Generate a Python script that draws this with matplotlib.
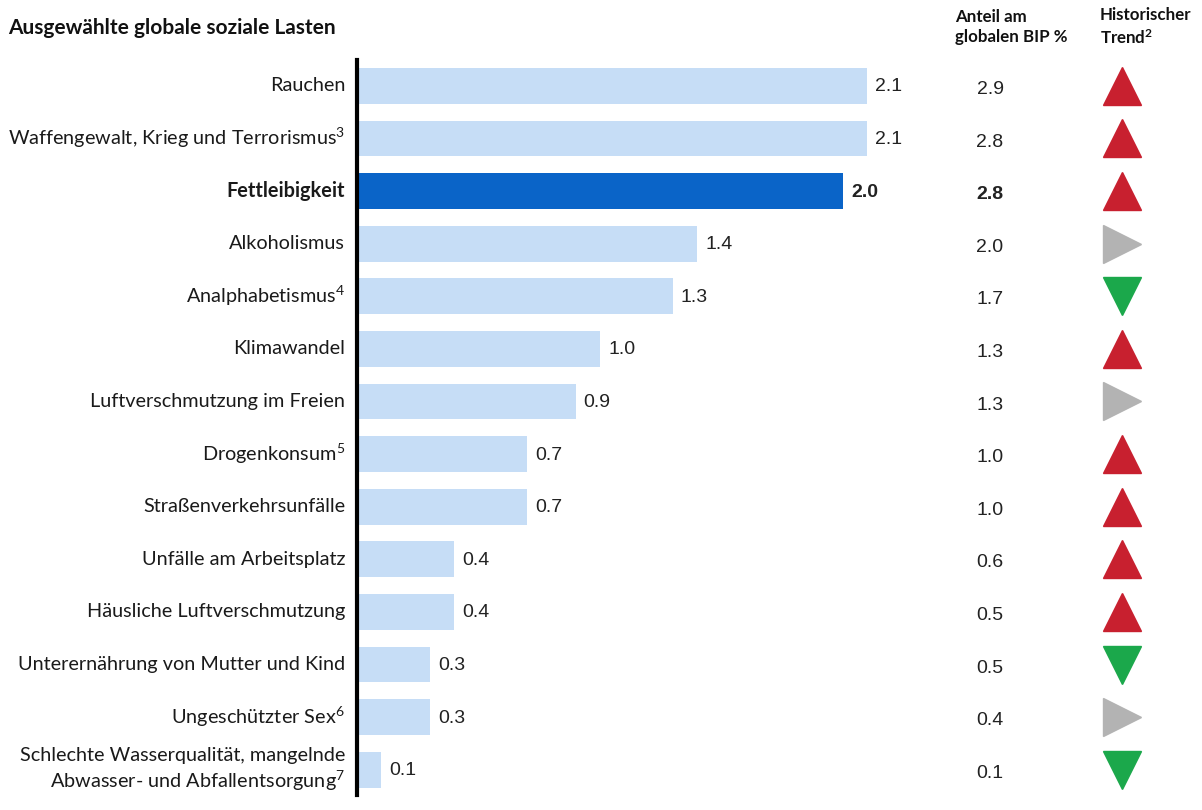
import matplotlib
matplotlib.use("Agg")
import matplotlib.pyplot as plt
import matplotlib.transforms as mtransforms

plt.rcParams["mathtext.fontset"] = "custom"
plt.rcParams["mathtext.rm"] = "Lato"
plt.rcParams["mathtext.it"] = "Lato:italic"
plt.rcParams["mathtext.bf"] = "Lato:bold"

categories = [
    "Rauchen",
    r"Waffengewalt, Krieg und Terrorismus$^{\mathrm{3}}$",
    "Fettleibigkeit",
    "Alkoholismus",
    r"Analphabetismus$^{\mathrm{4}}$",
    "Klimawandel",
    "Luftverschmutzung im Freien",
    r"Drogenkonsum$^{\mathrm{5}}$",
    "Straßenverkehrsunfälle",
    "Unfälle am Arbeitsplatz",
    "Häusliche Luftverschmutzung",
    "Unterernährung von Mutter und Kind",
    r"Ungeschützter Sex$^{\mathrm{6}}$",
    "Schlechte Wasserqualität, mangelnde\n" + r"Abwasser- und Abfallentsorgung$^{\mathrm{7}}$",
]
kosten = [2.1, 2.1, 2.0, 1.4, 1.3, 1.0, 0.9, 0.7, 0.7, 0.4, 0.4, 0.3, 0.3, 0.1]
bip_anteil = ["2.9", "2.8", "2.8", "2.0", "1.7", "1.3", "1.3", "1.0", "1.0", "0.6", "0.5", "0.5", "0.4", "0.1"]
trend = ["up", "up", "up", "flat", "down", "up", "flat", "up", "up", "up", "up", "down", "flat", "down"]
highlight = "Fettleibigkeit"

W, H = 1202, 810
fig = plt.figure(figsize=(W / 100, H / 100), dpi=100)
ax = fig.add_axes([357 / W, 1 - 795 / H, (W - 357) / W, (795 - 60) / H])

lab_font = ["Lato", "DejaVu Sans"]
num_font = ["Liberation Sans", "DejaVu Sans"]

ys = list(range(len(categories)))
colors = ["#0A64C8" if c == highlight else "#C6DDF6" for c in categories]
ax.barh(ys, kosten, height=0.68, color=colors, align="center")

ax.set_xlim(0, (W - 357) / 243.0)
ax.set_ylim(13.48, -0.49)
for s in ["top", "right", "bottom"]:
    ax.spines[s].set_visible(False)
ax.spines["left"].set_linewidth(3)
ax.spines["left"].set_color("black")
ax.set_xticks([])
ax.set_yticks([])

trans = mtransforms.blended_transform_factory(fig.transFigure, ax.transData)

for y, cat, v, b, t in zip(ys, categories, kosten, bip_anteil, trend):
    bold = cat == highlight
    fw = "bold" if bold else "normal"
    ax.text(345 / W, y, cat, transform=trans, ha="right", va="center",
            fontsize=14.3, family=lab_font, fontweight=fw, color="#1a1a1a",
            linespacing=1.25)
    ax.text(v + 0.033, y + 0.02, f"{v:.1f}", ha="left", va="center", fontsize=14,
            family=num_font, fontweight=fw, color="#222222")
    ax.text(990 / W, y + 0.07, b, transform=trans, ha="center", va="center",
            fontsize=14, family=num_font, fontweight=fw, color="#222222")
    if t == "up":
        ax.plot([1122 / W], [y], marker="^", markersize=27, color="#C8202F",
                transform=trans, clip_on=False)
    elif t == "down":
        ax.plot([1122 / W], [y], marker="v", markersize=27, color="#1BA84B",
                transform=trans, clip_on=False)
    else:
        ax.plot([1122 / W], [y], marker=">", markersize=27, color="#B3B3B3",
                transform=trans, clip_on=False)

fig.text(8 / W, 1 - 28 / H, "Ausgewählte globale soziale Lasten", ha="left",
         va="center", fontsize=15, fontweight="bold", family=lab_font, color="#111111")
fig.text(955 / W, 1 - 27 / H, "Anteil am\nglobalen BIP %", ha="left", va="center",
         fontsize=12.2, fontweight="bold", family=lab_font, color="#111111",
         linespacing=1.3)
fig.text(1100 / W, 1 - 27 / H, "Historischer\n" + r"Trend$^{\mathbf{2}}$", ha="left",
         va="center", fontsize=12.2, fontweight="bold", family=lab_font,
         color="#111111", linespacing=1.3)

fig.savefig("out.png", dpi=100)
